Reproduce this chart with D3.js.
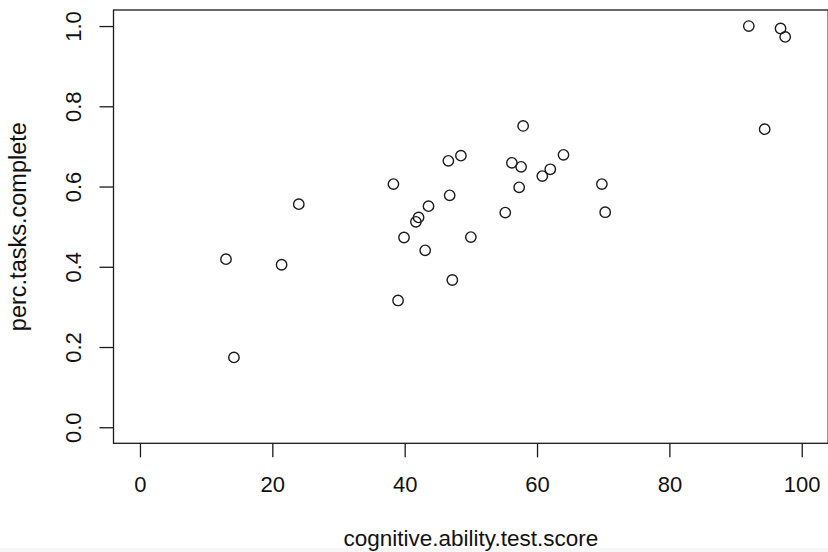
<!DOCTYPE html>
<html>
<head>
<meta charset="utf-8">
<script src="https://cdn.jsdelivr.net/npm/d3@7"></script>
<style>
  html, body { margin: 0; padding: 0; background: #fff; }
  svg { display: block; }
  text { font-family: "Liberation Sans", Arial, Helvetica, sans-serif; fill: #111; }
</style>
</head>
<body>
<svg id="chart" width="828" height="552"></svg>
<script>
// Data
const cognitiveScore = [13.0, 14.2, 21.4, 24.0, 38.3, 39.0, 39.9, 41.7, 42.1, 43.1,
                        43.6, 46.6, 46.8, 47.2, 48.5, 50.0, 55.2, 56.2, 57.3, 57.6,
                        57.9, 60.8, 62.0, 64.0, 69.8, 70.3, 92.0, 94.4, 96.8, 97.5];
const percComplete   = [0.419, 0.174, 0.405, 0.556, 0.606, 0.316, 0.473, 0.512, 0.523, 0.441,
                        0.551, 0.664, 0.578, 0.367, 0.677, 0.474, 0.535, 0.659, 0.598, 0.649,
                        0.751, 0.626, 0.643, 0.679, 0.606, 0.536, 1.000, 0.743, 0.994, 0.973];
const xTicks = [0, 20, 40, 60, 80, 100];
const yTicks = [0.0, 0.2, 0.4, 0.6, 0.8, 1.0];
const xLabel = "cognitive.ability.test.score";
const yLabel = "perc.tasks.complete";

const svg = d3.select("#chart");
const ink = "#1a1a1a";

// R style: limits extended by 4%
const xlim = [0, 100], ylim = [0, 1];
const xpad = (xlim[1] - xlim[0]) * 0.04, ypad = (ylim[1] - ylim[0]) * 0.04;
const plot = { left: 113.5, right: 828.2, top: 10, bottom: 443.3 };

const x = d3.scaleLinear().domain([xlim[0] - xpad, xlim[1] + xpad]).range([plot.left, plot.right]);
const y = d3.scaleLinear().domain([ylim[0] - ypad, ylim[1] + ypad]).range([plot.bottom, plot.top]);

// faint band at bottom like reference
svg.append("rect").attr("x", 0).attr("y", 548).attr("width", 828).attr("height", 4).attr("fill", "#f6f6f6");

// X axis
const gx = svg.append("g").attr("transform", `translate(0,${plot.bottom})`)
  .call(d3.axisBottom(x).tickValues(xTicks).tickSize(14).tickFormat(d3.format("d")));
gx.select(".domain").remove();
gx.selectAll(".tick line").attr("stroke", ink).attr("stroke-width", 1.3);
gx.selectAll(".tick text")
  .attr("y", 48.3).attr("dy", null)
  .attr("font-size", 22).attr("fill", ink)
  .style("font-family", '"Liberation Sans", Arial, sans-serif');

// Y axis
const gy = svg.append("g").attr("transform", `translate(${plot.left},0)`)
  .call(d3.axisLeft(y).tickValues(yTicks).tickSize(14).tickFormat(d3.format(".1f")));
gy.select(".domain").remove();
gy.selectAll(".tick line").attr("stroke", ink).attr("stroke-width", 1.3);
gy.selectAll(".tick text")
  .attr("x", null).attr("dy", null)
  .attr("text-anchor", "middle")
  .attr("transform", `translate(${81 - plot.left},0) rotate(-90)`)
  .attr("font-size", 22).attr("fill", ink)
  .style("font-family", '"Liberation Sans", Arial, sans-serif');

// Box
svg.append("rect")
  .attr("x", plot.left).attr("y", plot.top)
  .attr("width", plot.right - plot.left).attr("height", plot.bottom - plot.top)
  .attr("fill", "none").attr("stroke", ink).attr("stroke-width", 1.3);

// Points
svg.append("g").selectAll("circle")
  .data(cognitiveScore.map((v, i) => [v, percComplete[i]]))
  .join("circle")
  .attr("cx", d => x(d[0]))
  .attr("cy", d => y(d[1]))
  .attr("r", 5.2)
  .attr("fill", "none")
  .attr("stroke", ink)
  .attr("stroke-width", 1.4);

// Axis titles
svg.append("text")
  .attr("x", (plot.left + plot.right) / 2).attr("y", 545.7)
  .attr("text-anchor", "middle").attr("font-size", 22.5)
  .text(xLabel);

svg.append("text")
  .attr("transform", `translate(26,${(plot.top + plot.bottom) / 2}) rotate(-90)`)
  .attr("text-anchor", "middle").attr("font-size", 23.5)
  .text(yLabel);
</script>
</body>
</html>
